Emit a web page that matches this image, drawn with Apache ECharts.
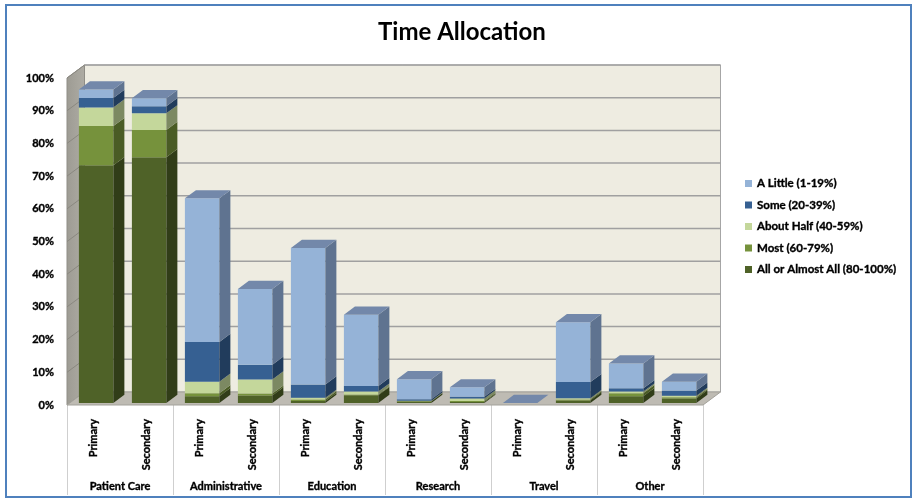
<!DOCTYPE html>
<html>
<head>
<meta charset="utf-8">
<script src="https://cdn.jsdelivr.net/npm/echarts@6/dist/echarts.min.js"></script>
<style>
  html, body { margin: 0; padding: 0; background: #ffffff; }
  #chart { width: 917px; height: 502px; }
</style>
</head>
<body>
<div id="chart"></div>
<script>
// ---- data ----
const groups = ['Patient Care', 'Administrative', 'Education', 'Research', 'Travel', 'Other'];
const roles = ['Primary', 'Secondary'];
const levelNames = ['All or Almost All (80-100%)', 'Most (60-79%)', 'About Half (40-59%)', 'Some (20-39%)', 'A Little (1-19%)'];
// percent of respondents, one value per group/role slot (Primary, Secondary, Primary, ...)
const allOrAlmostAll = [72.7, 75.2, 2.1, 2.3, 0.6, 2.4, 0.5, 0.3, 0, 0.8, 2.1, 1.4];
const most           = [12.0,  8.3, 0.9, 0.6, 0.5, 0.2, 0.1, 0.3, 0, 0.3, 0.9, 0.4];
const aboutHalf      = [ 5.7,  5.1, 3.5, 4.3, 0.5, 0.9, 0.1, 0.8, 0, 0.4, 0.5, 0.4];
const some           = [ 2.9,  2.2, 12.2, 4.5, 4.1, 1.7, 0.5, 0.5, 0, 4.9, 1.0, 1.6];
const aLittle        = [ 2.6,  2.4, 43.9, 23.2, 41.7, 21.8, 6.1, 2.9, 0, 18.3, 7.6, 2.7];
const yTicks = [0, 10, 20, 30, 40, 50, 60, 70, 80, 90, 100];

// ---- look ----
const FONT = 'Lato, "Open Sans", sans-serif';
const DX = 17.5, DY = 13;        // depth of the box (walls / floor)
const F1 = 0.15, F2 = 0.78;      // bar front / back as a share of the depth
const BAR_RATIO = 0.65;
const frontColors = ['#4F6228', '#76923C', '#C4D79B', '#366092', '#95B3D7'];
const sideColors  = ['#313d18', '#4a5c25', '#7c8962', '#213c5c', '#5f7390'];
const topColor = '#7388aa';
// small bold labels, slightly thickened
const smallText = {
  fontFamily: FONT, fontSize: 11, fontWeight: 'bold', color: '#000000',
  textBorderColor: '#000000', textBorderWidth: 0.35
};

const layers = [allOrAlmostAll, most, aboutHalf, some, aLittle];
const slots = [];
groups.forEach(g => roles.forEach(r => slots.push(g + '|' + r)));

// stacked [slot, base, top] items for each layer
const running = slots.map(() => 0);
const layerData = layers.map(vals => vals.map((v, i) => {
  const base = running[i];
  running[i] = base + v;
  return [i, base, base + v];
}));

function renderWalls(params, api) {
  const cs = params.coordSys;
  const x0 = cs.x, x1 = cs.x + cs.width;
  const yBase = api.coord([0, yTicks[0]])[1];
  const yTop = api.coord([0, yTicks[yTicks.length - 1]])[1];
  const kids = [];
  // back wall
  kids.push({ type: 'polygon', shape: { points: [[x0 + DX, yTop - DY], [x1 + DX, yTop - DY], [x1 + DX, yBase - DY], [x0 + DX, yBase - DY]] },
    style: { fill: '#eeece1', stroke: '#a6a6a6', lineWidth: 1 } });
  // side wall
  kids.push({ type: 'polygon', shape: { points: [[x0, yBase], [x0, yTop], [x0 + DX, yTop - DY], [x0 + DX, yBase - DY]] },
    style: { fill: { type: 'linear', x: 0, y: 0, x2: 1, y2: 0, colorStops: [{ offset: 0, color: '#9d9b93' }, { offset: 1, color: '#aeaca4' }] },
      stroke: '#8f8d86', lineWidth: 1 } });
  // floor
  kids.push({ type: 'polygon', shape: { points: [[x0, yBase], [x1, yBase], [x1 + DX, yBase - DY], [x0 + DX, yBase - DY]] },
    style: { fill: '#bebbb3', stroke: '#a3a19a', lineWidth: 1 } });
  // grid lines on back and side wall
  yTicks.forEach(t => {
    if (t === yTicks[0]) return;
    const y = api.coord([0, t])[1];
    kids.push({ type: 'line', shape: { x1: x0 + DX, y1: y - DY, x2: x1 + DX, y2: y - DY },
      style: { stroke: '#a0a0a0', lineWidth: 1.5 } });
    kids.push({ type: 'line', shape: { x1: x0, y1: y, x2: x0 + DX, y2: y - DY },
      style: { stroke: '#8a8880', lineWidth: 1 } });
  });
  return { type: 'group', children: kids };
}

function barRenderer(layerIdx) {
  const isTop = layerIdx === layers.length - 1;
  return function (params, api) {
    const slot = api.value(0), lo = api.value(1), hi = api.value(2);
    const pLo = api.coord([slot, lo]);
    const pHi = api.coord([slot, hi]);
    const w = api.size([1, 0])[0] * BAR_RATIO;
    const fx = DX * F1, fy = DY * F1;
    const bx = DX * (F2 - F1), by = DY * (F2 - F1);
    const xl = pLo[0] - w / 2 + fx, xr = xl + w;
    const yb = pLo[1] - fy, yt = pHi[1] - fy;
    const kids = [];
    if (yb - yt > 0.01) {
      kids.push({ type: 'polygon', shape: { points: [[xl, yb], [xr, yb], [xr, yt], [xl, yt]] },
        style: { fill: frontColors[layerIdx] } });
      kids.push({ type: 'polygon', shape: { points: [[xr, yb], [xr + bx, yb - by], [xr + bx, yt - by], [xr, yt]] },
        style: { fill: sideColors[layerIdx] } });
    }
    if (isTop) {
      kids.push({ type: 'polygon', shape: { points: [[xl, yt], [xr, yt], [xr + bx, yt - by], [xl + bx, yt - by]] },
        style: { fill: topColor } });
    }
    return { type: 'group', children: kids };
  };
}

const series = [{
  type: 'custom',
  name: 'walls',
  z: 1,
  silent: true,
  renderItem: renderWalls,
  data: [[0, 0, 0]],
  encode: { x: 0, y: 1 }
}];
layers.forEach((_, li) => {
  series.push({
    type: 'custom',
    name: levelNames[li],
    z: 2,
    renderItem: barRenderer(li),
    itemStyle: { color: frontColors[li] },
    data: layerData[li],
    encode: { x: 0, y: [1, 2] }
  });
});

const chart = echarts.init(document.getElementById('chart'), null, { renderer: 'canvas' });
chart.setOption({
  animation: false,
  backgroundColor: '#ffffff',
  textStyle: { fontFamily: FONT },
  title: {
    text: 'Time Allocation',
    left: 373,
    top: 15,
    textStyle: { fontFamily: FONT, fontSize: 24, fontWeight: 'bold', color: '#000000' }
  },
  legend: {
    orient: 'vertical',
    left: 740,
    top: 172,
    icon: 'rect',
    itemWidth: 7,
    itemHeight: 7,
    itemGap: 8.5,
    data: levelNames.slice().reverse(),
    textStyle: Object.assign({ lineHeight: 13 }, smallText, { fontSize: 11.5 })
  },
  grid: { left: 67, right: 214, top: 78, bottom: 97 },
  xAxis: [{
    type: 'category',
    position: 'bottom',
    data: slots,
    axisLine: { show: false },
    axisTick: { show: false },
    axisLabel: Object.assign({
      rotate: 90,
      margin: 14,
      interval: 0,
      formatter: v => v.split('|')[1]
    }, smallText)
  }, {
    type: 'category',
    position: 'bottom',
    data: groups,
    axisLine: { show: false },
    axisTick: { show: true, length: 90, lineStyle: { color: '#cfcfcf', width: 1 } },
    axisLabel: Object.assign({ margin: 76, interval: 0 }, smallText)
  }],
  yAxis: {
    type: 'value',
    min: yTicks[0],
    max: yTicks[yTicks.length - 1],
    interval: yTicks[1] - yTicks[0],
    axisLine: { show: false },
    axisTick: { show: false },
    splitLine: { show: false },
    axisLabel: Object.assign({ margin: 13, formatter: '{value}%' }, smallText)
  },
  graphic: [{
    type: 'rect',
    z: 100,
    shape: { x: 6, y: 5, width: 905, height: 492 },
    style: { fill: 'none', stroke: '#4f81bd', lineWidth: 2 }
  }],
  series: series
});
</script>
</body>
</html>
